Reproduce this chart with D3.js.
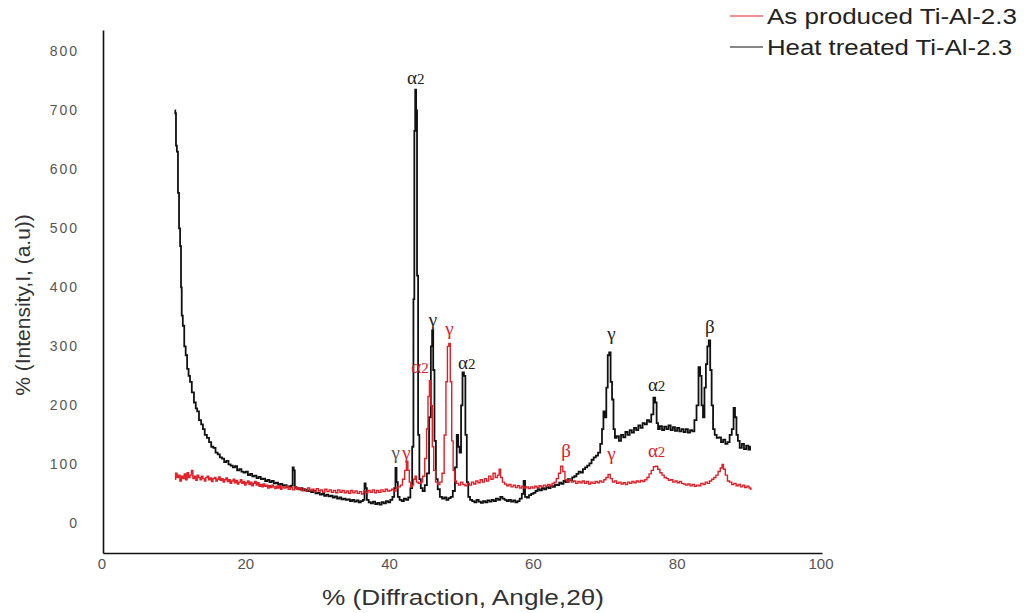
<!DOCTYPE html>
<html>
<head>
<meta charset="utf-8">
<script src="https://cdn.jsdelivr.net/npm/d3@7"></script>
<style>
  body { margin: 0; background: #fff; }
  svg { display: block; font-family: "Liberation Sans", Arial, sans-serif; }
</style>
</head>
<body>
<div id="chart"></div>
<script>
// Heat treated Ti-Al-2.3 : [2theta, intensity]
const heatTreated = [
  [10.0,700],[10.1,695],[10.2,640],[10.35,630],[10.5,560],[10.65,500],[10.8,470],[10.9,400],[11.0,352],
  [11.2,335],[11.4,300],[11.6,285],[11.8,262],[12.0,250],[12.2,240],[12.5,222],[12.8,205],[13.0,195],
  [13.2,190],[13.5,175],[13.8,168],[14.0,160],[14.3,150],[14.6,145],[14.9,138],[15.2,130],[15.5,128],
  [15.8,120],[16.1,117],[16.4,112],[16.7,110],[17.0,104],[17.3,106],[17.6,100],[17.9,98],[18.2,95],
  [18.5,97],[18.8,90],[19.1,92],[19.4,88],[19.7,86],[20.0,88],[20.3,82],[20.6,84],[20.9,80],[21.2,81],
  [21.5,77],[21.8,79],[22.1,75],[22.4,76],[22.7,72],[23.0,74],[23.3,70],[23.6,72],[23.9,68],[24.2,69],
  [24.5,66],[24.8,67],[25.1,64],[25.4,65],[25.7,62],[26.0,63],[26.3,64],[26.45,95],[26.6,90],[26.75,62],
  [27.0,60],[27.3,58],[27.6,60],[27.9,56],[28.2,57],[28.5,55],[28.8,56],[29.1,53],[29.4,55],[29.7,51],
  [30.0,52],[30.3,49],[30.6,50],[30.9,47],[31.2,49],[31.5,46],[31.8,47],[32.1,44],[32.4,46],[32.7,42],
  [33.0,44],[33.3,41],[33.6,42],[33.9,40],[34.2,41],[34.5,38],[34.8,40],[35.1,37],[35.4,39],[35.7,36],
  [36.0,38],[36.3,40],[36.45,68],[36.6,60],[36.8,40],[37.1,36],[37.4,34],[37.7,37],[38.0,33],[38.3,35],
  [38.6,32],[38.9,36],[39.2,34],[39.5,38],[39.8,36],[40.1,40],[40.4,45],[40.6,60],[40.75,94],[40.9,70],
  [41.1,45],[41.4,40],[41.7,38],[42.0,42],[42.3,40],[42.6,44],[42.9,60],[43.1,130],[43.25,380],
  [43.35,665],[43.5,735],[43.6,700],[43.75,420],[43.9,150],[44.1,75],[44.3,60],[44.6,55],[44.9,65],
  [45.2,85],[45.5,180],[45.7,300],[45.85,327],[46.0,260],[46.2,140],[46.4,75],[46.7,58],[47.0,45],
  [47.3,42],[47.6,44],[47.9,40],[48.2,43],[48.5,45],[48.8,55],[49.1,95],[49.3,150],[49.5,130],[49.7,120],
  [49.9,200],[50.1,256],[50.3,250],[50.5,150],[50.7,70],[50.9,45],[51.2,40],[51.5,38],[51.8,36],[52.1,40],
  [52.4,37],[52.7,35],[53.0,38],[53.3,36],[53.6,39],[53.9,37],[54.2,40],[54.5,38],[54.8,42],[55.1,40],
  [55.4,45],[55.7,42],[56.0,40],[56.3,38],[56.6,40],[56.9,37],[57.2,39],[57.5,36],[57.8,38],[58.1,42],
  [58.4,50],[58.6,72],[58.8,45],[59.1,44],[59.4,48],[59.7,50],[60.0,52],[60.3,55],[60.6,58],[60.9,56],
  [61.2,60],[61.5,58],[61.8,62],[62.1,60],[62.4,64],[62.7,62],[63.0,66],[63.3,65],[63.6,69],[63.9,67],
  [64.2,72],[64.5,70],[64.8,75],[65.1,73],[65.4,78],[65.7,80],[66.0,84],[66.3,88],[66.6,86],[66.9,92],
  [67.2,95],[67.5,98],[67.8,102],[68.1,108],[68.4,112],[68.7,115],[69.0,120],[69.3,135],[69.5,160],
  [69.7,190],[69.9,180],[70.1,230],[70.3,285],[70.5,290],[70.7,240],[70.9,210],[71.1,160],[71.3,145],
  [71.6,148],[71.9,140],[72.2,150],[72.5,146],[72.8,155],[73.1,150],[73.4,158],[73.7,154],[74.0,162],
  [74.3,158],[74.6,166],[74.9,162],[75.2,170],[75.5,168],[75.8,175],[76.1,172],[76.4,185],[76.7,213],
  [76.9,205],[77.1,170],[77.3,160],[77.6,165],[77.9,158],[78.2,164],[78.5,160],[78.8,166],[79.1,158],
  [79.4,163],[79.7,157],[80.0,162],[80.3,156],[80.6,160],[80.9,155],[81.2,160],[81.5,154],[81.8,158],
  [82.1,156],[82.4,175],[82.7,200],[82.95,265],[83.15,250],[83.35,200],[83.55,180],[83.75,230],
  [83.95,270],[84.15,300],[84.35,310],[84.55,260],[84.75,200],[84.95,160],[85.2,150],[85.5,145],
  [85.8,146],[86.1,138],[86.4,142],[86.7,135],[87.0,138],[87.3,150],[87.6,160],[87.8,196],[88.0,180],
  [88.2,150],[88.4,140],[88.7,128],[89.0,135],[89.3,126],[89.6,132],[89.9,125],[90.1,130]
];

// As produced Ti-Al-2.3 : [2theta, intensity]
const asProduced = [
  [10.0,75],[10.2,85],[10.4,78],[10.6,82],[10.8,72],[11.0,80],[11.2,76],[11.4,84],[11.6,74],[11.8,86],
  [12.0,78],[12.2,82],[12.4,90],[12.6,76],[12.8,80],[13.0,73],[13.2,82],[13.4,78],[13.6,74],[13.8,80],
  [14.0,76],[14.2,72],[14.4,78],[14.6,80],[14.8,74],[15.0,77],[15.2,71],[15.4,76],[15.6,78],[15.8,72],
  [16.0,75],[16.2,79],[16.4,73],[16.6,76],[16.8,70],[17.0,74],[17.2,77],[17.4,71],[17.6,74],[17.8,68],
  [18.0,72],[18.2,75],[18.4,69],[18.6,73],[18.8,67],[19.0,70],[19.2,74],[19.4,68],[19.6,71],[19.8,65],
  [20.0,69],[20.2,72],[20.4,66],[20.6,70],[20.8,64],[21.0,68],[21.2,71],[21.4,65],[21.6,69],[21.8,63],
  [22.0,66],[22.2,62],[22.4,67],[22.6,63],[22.8,65],[23.0,60],[23.2,64],[23.4,61],[23.6,65],[23.8,62],
  [24.0,59],[24.2,63],[24.4,60],[24.6,64],[24.8,58],[25.0,62],[25.3,60],[25.6,63],[25.9,58],[26.2,61],
  [26.5,57],[26.8,62],[27.1,58],[27.4,60],[27.7,56],[28.0,59],[28.3,55],[28.6,60],[28.9,56],[29.2,58],
  [29.5,54],[29.8,59],[30.1,55],[30.4,57],[30.7,53],[31.0,58],[31.3,54],[31.6,57],[31.9,53],[32.2,56],
  [32.5,52],[32.8,57],[33.1,53],[33.4,56],[33.7,52],[34.0,55],[34.3,51],[34.6,56],[34.9,52],[35.2,55],
  [35.5,51],[35.8,54],[36.1,50],[36.4,55],[36.7,52],[37.0,56],[37.3,53],[37.6,57],[37.9,52],[38.2,56],
  [38.5,53],[38.8,57],[39.1,54],[39.4,58],[39.7,55],[40.0,56],[40.3,58],[40.6,55],[40.9,60],[41.2,62],
  [41.5,65],[41.8,75],[42.1,90],[42.3,105],[42.5,90],[42.7,70],[42.9,62],[43.1,65],[43.3,75],[43.5,80],
  [43.7,70],[44.0,68],[44.3,70],[44.6,80],[44.9,110],[45.1,160],[45.3,215],[45.5,242],[45.7,200],
  [45.9,130],[46.1,90],[46.4,70],[46.7,66],[47.0,70],[47.3,85],[47.6,150],[47.8,240],[48.0,300],
  [48.2,305],[48.4,240],[48.6,140],[48.8,90],[49.0,72],[49.3,68],[49.6,65],[49.9,70],[50.2,66],[50.5,64],
  [50.8,68],[51.1,65],[51.4,70],[51.7,67],[52.0,72],[52.3,69],[52.6,74],[52.9,70],[53.2,76],[53.5,72],
  [53.8,80],[54.1,75],[54.4,85],[54.7,78],[55.0,82],[55.2,92],[55.4,78],[55.7,70],[56.0,67],[56.3,64],
  [56.6,66],[56.9,62],[57.2,65],[57.5,61],[57.8,64],[58.1,60],[58.4,63],[58.7,60],[59.0,62],[59.3,59],
  [59.6,62],[59.9,60],[60.2,63],[60.5,61],[60.8,64],[61.1,62],[61.4,65],[61.7,63],[62.0,66],[62.3,64],
  [62.6,68],[62.9,70],[63.2,76],[63.5,85],[63.8,97],[64.1,88],[64.4,74],[64.7,70],[65.0,74],[65.3,70],
  [65.6,72],[65.9,68],[66.2,71],[66.5,69],[66.8,72],[67.1,68],[67.4,71],[67.7,67],[68.0,70],[68.3,68],
  [68.6,71],[68.9,69],[69.2,72],[69.5,70],[69.8,74],[70.1,78],[70.4,83],[70.7,76],[71.0,70],[71.3,72],
  [71.6,68],[71.9,70],[72.2,67],[72.5,69],[72.8,66],[73.1,70],[73.4,68],[73.7,71],[74.0,69],[74.3,72],
  [74.6,70],[74.9,73],[75.2,71],[75.5,74],[75.8,78],[76.1,84],[76.4,90],[76.7,96],[77.0,97],[77.3,92],
  [77.6,86],[77.9,82],[78.2,78],[78.5,76],[78.8,73],[79.1,74],[79.4,70],[79.7,72],[80.0,69],[80.3,71],
  [80.6,68],[80.9,67],[81.2,65],[81.5,67],[81.8,64],[82.1,66],[82.4,63],[82.7,65],[83.0,64],[83.3,68],
  [83.6,66],[83.9,70],[84.2,68],[84.5,72],[84.8,75],[85.1,78],[85.4,82],[85.7,88],[86.0,94],[86.2,100],
  [86.4,92],[86.7,82],[87.0,72],[87.3,70],[87.6,66],[87.9,68],[88.2,64],[88.5,66],[88.8,62],[89.1,65],
  [89.4,61],[89.7,63],[90.0,60],[90.2,58]
];

const xTicks = [0, 20, 40, 60, 80, 100];
const yTicks = [0, 100, 200, 300, 400, 500, 600, 700, 800];
const seriesNames = ["As produced Ti-Al-2.3", "Heat treated Ti-Al-2.3"];
const seriesColors = ["#e02028", "#111111"];

// peak labels: [symbol, subscript, 2theta, intensity at baseline, colour]
const peakLabels = [
  ["α", "2", 43.5, 745, "#222"],
  ["γ", "", 45.9, 335, "#222"],
  ["α", "2", 44.1, 255, "#e02028"],
  ["γ", "", 48.2, 320, "#e02028"],
  ["α", "2", 50.6, 262, "#222"],
  ["γ", "", 40.7, 110, "#555"],
  ["γ", "", 42.2, 110, "#e02028"],
  ["γ", "", 70.7, 310, "#222"],
  ["α", "2", 77.0, 225, "#222"],
  ["β", "", 84.4, 322, "#222"],
  ["β", "", 64.4, 112, "#e02028"],
  ["γ", "", 70.7, 108, "#e02028"],
  ["α", "2", 77.0, 112, "#e02028"]
];

const W = 1024, H = 613;
const margin = { top: 30, left: 103 };
const plotW = 719, plotH = 523;

const svg = d3.select("#chart").append("svg")
  .attr("width", W).attr("height", H);

const g = svg.append("g")
  .attr("transform", "translate(" + margin.left + "," + margin.top + ")");

const x = d3.scaleLinear().domain([0, 100]).range([0, plotW]);
const y = d3.scaleLinear().domain([-50, 836]).range([plotH, 0]);

// axes
const xAxis = d3.axisBottom(x).tickValues(xTicks).tickSize(0).tickSizeOuter(0).tickPadding(5);
const yAxis = d3.axisLeft(y).tickValues(yTicks).tickSize(0).tickSizeOuter(0).tickPadding(24);

const gx = g.append("g").attr("transform", "translate(0," + plotH + ")").call(xAxis);
const gy = g.append("g").call(yAxis);

gx.select(".domain").attr("stroke", "#111").attr("stroke-width", 1.6);
gy.select(".domain").attr("stroke", "#111").attr("stroke-width", 1.6);
gx.selectAll("text").attr("font-size", 15).attr("fill", "#555")
  .attr("font-family", "'Liberation Sans', Arial, sans-serif");
gx.selectAll(".tick").attr("transform", function(d) { return "translate(" + (x(d) - 1) + ",0)"; });
gy.selectAll("text").attr("font-size", 14).attr("fill", "#555")
  .attr("letter-spacing", "2px");

// lines
const line = d3.line()
  .curve(d3.curveStep)
  .x(function(d) { return x(d[0]); })
  .y(function(d) { return y(d[1]); });

g.append("path")
  .datum(heatTreated)
  .attr("fill", "none")
  .attr("stroke", seriesColors[1])
  .attr("stroke-width", 1.8)
  .attr("d", line);

g.append("path")
  .datum(asProduced)
  .attr("fill", "none")
  .attr("stroke", seriesColors[0])
  .attr("stroke-width", 1.4)
  .attr("d", line);

// peak labels
const pl = g.selectAll(".peak").data(peakLabels).enter().append("text")
  .attr("class", "peak")
  .attr("x", function(d) { return x(d[2]); })
  .attr("y", function(d) { return y(d[3]); })
  .attr("text-anchor", "middle")
  .attr("font-family", "'Liberation Serif', 'DejaVu Serif', serif")
  .attr("font-size", 19)
  .attr("fill", function(d) { return d[4]; });
pl.append("tspan").text(function(d) { return d[0]; });
pl.append("tspan").attr("font-size", 15).text(function(d) { return d[1]; });

// axis titles
svg.append("text")
  .attr("x", 463).attr("y", 605)
  .attr("text-anchor", "middle")
  .attr("font-size", 22).attr("fill", "#333")
  .attr("textLength", 282).attr("lengthAdjust", "spacingAndGlyphs")
  .text("% (Diffraction, Angle,2θ)");

svg.append("text")
  .attr("transform", "translate(30,305) rotate(-90)")
  .attr("text-anchor", "middle")
  .attr("font-size", 21).attr("fill", "#333")
  .text("% (Intensity,I, (a.u))");

// legend
const legend = svg.append("g").attr("transform", "translate(730,0)");
const li = legend.selectAll(".leg").data(seriesNames).enter().append("g")
  .attr("transform", function(d, i) { return "translate(0," + (16 + i * 31) + ")"; });
li.append("line").attr("x1", 0).attr("x2", 33).attr("y1", 0).attr("y2", 0)
  .attr("stroke", function(d, i) { return seriesColors[i]; }).attr("stroke-width", 1.2);
li.append("text").attr("x", 37).attr("y", 8)
  .attr("font-size", 22).attr("fill", "#222")
  .attr("textLength", function(d, i) { return i === 0 ? 250 : 245; })
  .attr("lengthAdjust", "spacingAndGlyphs")
  .text(function(d) { return d; });
</script>
</body>
</html>
